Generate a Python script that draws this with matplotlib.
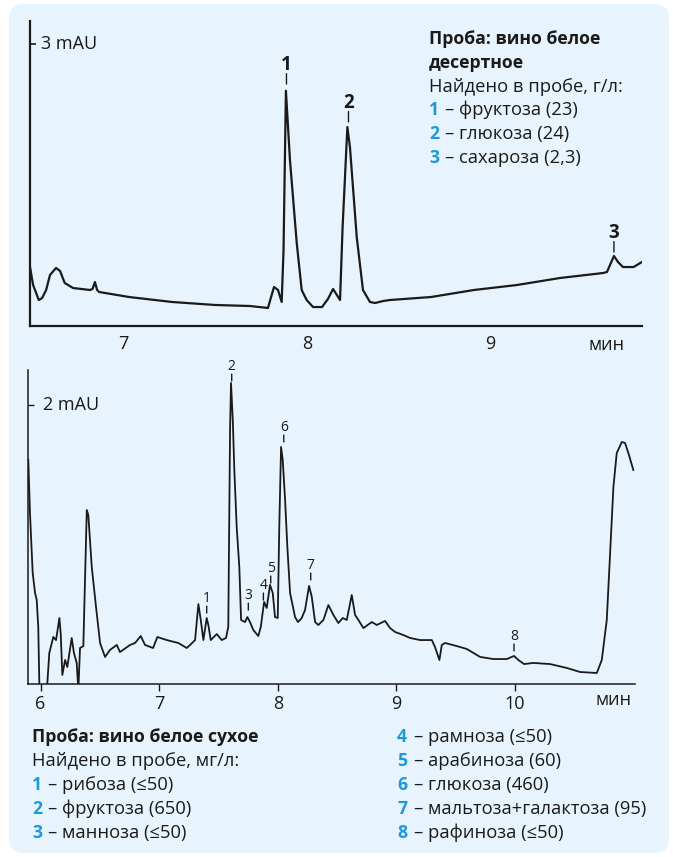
import numpy as np
import matplotlib
matplotlib.use('Agg')
import matplotlib.pyplot as plt
from matplotlib.patches import FancyBboxPatch

plt.rcParams['font.family'] = ['Open Sans', 'DejaVu Sans']

# =============================================================================
# Данные (считаны с хроматограмм)
# =============================================================================

# верхняя хроматограмма: вино белое десертное (время, мин / сигнал, mAU)
top_time = [6.489, 6.506, 6.537, 6.555, 6.577, 6.598, 6.631, 6.653, 6.678, 6.724,
            6.816, 6.830, 6.843, 6.855, 6.865, 7.029, 7.263, 7.498, 7.688, 7.786,
            7.819, 7.841, 7.861, 7.871, 7.884, 7.906, 7.943, 7.970, 7.997, 8.032,
            8.081, 8.113, 8.141, 8.179, 8.193, 8.219, 8.233, 8.270, 8.304, 8.342,
            8.370, 8.413, 8.451, 8.675, 8.909, 9.143, 9.378, 9.612, 9.634, 9.672,
            9.694, 9.721, 9.779, 9.825]
top_mau = [0.624, 0.432, 0.272, 0.293, 0.379, 0.539, 0.614, 0.582, 0.454, 0.400,
           0.379, 0.390, 0.464, 0.379, 0.358, 0.304, 0.251, 0.219, 0.208, 0.187,
           0.411, 0.379, 0.251, 0.806, 2.506, 1.766, 0.880, 0.379, 0.272, 0.197,
           0.197, 0.283, 0.390, 0.272, 1.051, 2.118, 1.905, 0.944, 0.379, 0.251,
           0.240, 0.261, 0.272, 0.304, 0.379, 0.432, 0.507, 0.560, 0.571, 0.742,
           0.678, 0.624, 0.624, 0.678]

top_peak_ids = ['1', '2', '3']
top_peak_time = [7.887, 8.225, 9.672]
top_peak_mau = [2.577, 2.172, 0.784]

top_title = ['Проба: вино белое', 'десертное']
top_found = 'Найдено в пробе, г/л:'
top_items = ['фруктоза (23)', 'глюкоза (24)', 'сахароза (2,3)']

# нижняя хроматограмма: вино белое сухое
bot_time = [5.897, 5.911, 5.934, 5.954, 5.968, 5.981, 5.990, 5.996, 6.055, 6.057,
            6.074, 6.108, 6.131, 6.159, 6.170, 6.184, 6.207, 6.226, 6.263, 6.282,
            6.305, 6.319, 6.333, 6.361, 6.390, 6.403, 6.432, 6.468, 6.502, 6.544,
            6.586, 6.643, 6.670, 6.755, 6.797, 6.845, 6.881, 6.949, 6.985, 7.064,
            7.162, 7.233, 7.261, 7.303, 7.331, 7.351, 7.373, 7.401, 7.415, 7.435,
            7.486, 7.528, 7.564, 7.583, 7.598, 7.606, 7.621, 7.634, 7.654, 7.676,
            7.691, 7.724, 7.744, 7.766, 7.794, 7.836, 7.857, 7.885, 7.907, 7.935,
            7.958, 7.977, 8.000, 8.013, 8.028, 8.042, 8.062, 8.081, 8.104, 8.146,
            8.171, 8.202, 8.230, 8.264, 8.287, 8.315, 8.342, 8.385, 8.427, 8.469,
            8.511, 8.548, 8.582, 8.624, 8.652, 8.680, 8.722, 8.793, 8.835, 8.905,
            8.947, 8.989, 9.059, 9.116, 9.200, 9.299, 9.326, 9.363, 9.383, 9.411,
            9.509, 9.594, 9.706, 9.818, 9.931, 9.992, 10.029, 10.077, 10.155, 10.296,
            10.437, 10.549, 10.690, 10.732, 10.774, 10.802, 10.830, 10.858, 10.901, 10.928,
            10.956, 10.998]
bot_mau = [1.606, 1.226, 0.796, 0.652, 0.602, 0.409, 0.000, -0.115, -0.115, 0.000,
           0.222, 0.337, 0.315, 0.473, 0.366, 0.065, 0.172, 0.122, 0.330, 0.222,
           0.151, -0.043, 0.258, 0.272, 1.247, 1.211, 0.839, 0.552, 0.294, 0.194,
           0.244, 0.280, 0.229, 0.280, 0.294, 0.344, 0.280, 0.258, 0.337, 0.315,
           0.294, 0.258, 0.280, 0.315, 0.573, 0.459, 0.315, 0.473, 0.423, 0.315,
           0.358, 0.315, 0.330, 0.409, 1.821, 2.158, 1.892, 1.534, 1.125, 0.839,
           0.459, 0.444, 0.480, 0.444, 0.387, 0.344, 0.409, 0.588, 0.545, 0.710,
           0.652, 0.480, 0.473, 1.125, 1.699, 1.606, 1.319, 0.982, 0.652, 0.480,
           0.444, 0.473, 0.530, 0.703, 0.624, 0.444, 0.423, 0.459, 0.566, 0.495,
           0.437, 0.473, 0.459, 0.638, 0.495, 0.459, 0.401, 0.444, 0.423, 0.452,
           0.401, 0.373, 0.351, 0.330, 0.315, 0.315, 0.265, 0.172, 0.280, 0.294,
           0.272, 0.251, 0.194, 0.179, 0.179, 0.201, 0.172, 0.143, 0.151, 0.143,
           0.115, 0.086, 0.079, 0.172, 0.459, 0.939, 1.412, 1.656, 1.735, 1.728,
           1.656, 1.534]

bot_peak_ids = ['1', '2', '3', '4', '5', '6', '7', '8']
bot_peak_time = [7.401, 7.612, 7.752, 7.879, 7.941, 8.051, 8.278, 9.992]
bot_peak_mau = [0.509, 2.172, 0.530, 0.602, 0.724, 1.735, 0.746, 0.237]

bot_title = 'Проба: вино белое сухое'
bot_found = 'Найдено в пробе, мг/л:'
bot_items = ['рибоза (≤50)', 'фруктоза (650)', 'манноза (≤50)',
             'рамноза (≤50)', 'арабиноза (60)', 'глюкоза (460)',
             'мальтоза+галактоза (95)', 'рафиноза (≤50)']

# =============================================================================
# Оформление
# =============================================================================
W, H = 673, 857
INK = '#1a1a1a'
BLUE = '#1b9ad6'
PANEL = '#e8f4fd'
FS_BOLD = 12.7
FS_TEXT = 13.2


def fx(x):
    return x / W


def fy(y):
    return 1 - y / H


def setup_axes(ax, xlim, ylim, lw):
    ax.set_xlim(xlim)
    ax.set_ylim(ylim)
    ax.patch.set_alpha(0)
    for s in ['top', 'right']:
        ax.spines[s].set_visible(False)
    for s in ['left', 'bottom']:
        ax.spines[s].set_linewidth(lw)
        ax.spines[s].set_color(INK)


def peak_labels(ax, ids, times, heights, dash, gap, size, weight):
    for pid, t, h in zip(ids, times, heights):
        ax.annotate('', xy=(t, h), xytext=(0, dash), textcoords='offset points',
                    arrowprops=dict(arrowstyle='-', lw=1.0, color=INK,
                                    shrinkA=0, shrinkB=0), annotation_clip=False)
        ax.annotate(pid, xy=(t, h), xytext=(0, dash + gap), textcoords='offset points',
                    ha='center', va='baseline', fontsize=size, fontweight=weight,
                    color=INK, annotation_clip=False)


def item_line(x0, y, num, text, dx):
    fig.text(fx(x0), fy(y), num, fontsize=FS_BOLD, fontweight='bold', color=BLUE, va='center')
    fig.text(fx(x0 + dx), fy(y), '– ' + text, fontsize=FS_TEXT, color=INK, va='center')


fig = plt.figure(figsize=(W / 100, H / 100), dpi=100)
fig.patch.set_facecolor('white')
fig.patches.append(FancyBboxPatch((fx(9), fy(853)), fx(660), 849 / H,
                                  boxstyle='round,pad=0,rounding_size=0.022',
                                  transform=fig.transFigure, facecolor=PANEL,
                                  edgecolor='none', zorder=-10,
                                  mutation_aspect=W / H))

# --- верхний график ---
ax1 = fig.add_axes([fx(30), fy(325.5), fx(612), (325.5 - 20.7) / H])
setup_axes(ax1, (6.489, 9.825), (0, 3.253), 1.6)
ax1.plot(top_time, top_mau, color=INK, lw=1.6, solid_joinstyle='round')
ax1.set_xticks([7, 8, 9])
ax1.tick_params(axis='x', length=0, pad=7, labelsize=13, labelcolor=INK)
ax1.set_yticks([3])
ax1.set_yticklabels([''])
ax1.tick_params(axis='y', direction='in', length=4, width=1.2, color=INK)
ax1.text(0.018, 3, '3 mAU', fontsize=13, color=INK, va='center', ha='left',
         transform=ax1.get_yaxis_transform())
fig.text(fx(607), fy(345), 'мин', fontsize=13, color=INK, ha='center', va='center')
peak_labels(ax1, top_peak_ids, top_peak_time, top_peak_mau, 7.5, 2.5, 13.5, 'bold')

# текст справа вверху
fig.text(fx(429), fy(39), top_title[0], fontsize=FS_BOLD, fontweight='bold', color=INK, va='center')
fig.text(fx(429), fy(63), top_title[1], fontsize=FS_BOLD, fontweight='bold', color=INK, va='center')
fig.text(fx(429), fy(87), top_found, fontsize=FS_TEXT, color=INK, va='center')
for i, item in enumerate(top_items):
    item_line(429, 110 + 24 * i, str(i + 1), item, 16)

# --- нижний график ---
ax2 = fig.add_axes([fx(28.3), fy(684), fx(606.7), (684 - 370) / H])
setup_axes(ax2, (5.897, 11.012), (0, 2.251), 1.1)
ax2.plot(bot_time, bot_mau, color=INK, lw=1.3, solid_joinstyle='round')
ax2.set_xticks([6, 7, 8, 9, 10])
ax2.tick_params(axis='x', direction='out', length=5, width=1.0, color=INK,
                pad=3, labelsize=13, labelcolor=INK)
ax2.set_yticks([2])
ax2.set_yticklabels([''])
ax2.tick_params(axis='y', direction='in', length=4, width=1.0, color=INK)
ax2.text(0.025, 2, '2 mAU', fontsize=13, color=INK, va='center', ha='left',
         transform=ax2.get_yaxis_transform())
fig.text(fx(614), fy(700), 'мин', fontsize=13, color=INK, ha='center', va='center')
peak_labels(ax2, bot_peak_ids, bot_peak_time, bot_peak_mau, 5, 3, 10, 'medium')

# текст внизу
fig.text(fx(32), fy(737), bot_title, fontsize=FS_BOLD, fontweight='bold', color=INK, va='center')
fig.text(fx(32), fy(761), bot_found, fontsize=FS_TEXT, color=INK, va='center')
for i, item in enumerate(bot_items):
    if i < 3:
        item_line(32, 785 + 24 * i, str(i + 1), item, 16)
    else:
        item_line(397, 737 + 24 * (i - 3), str(i + 1), item, 17)

fig.savefig('out.png', dpi=100)
